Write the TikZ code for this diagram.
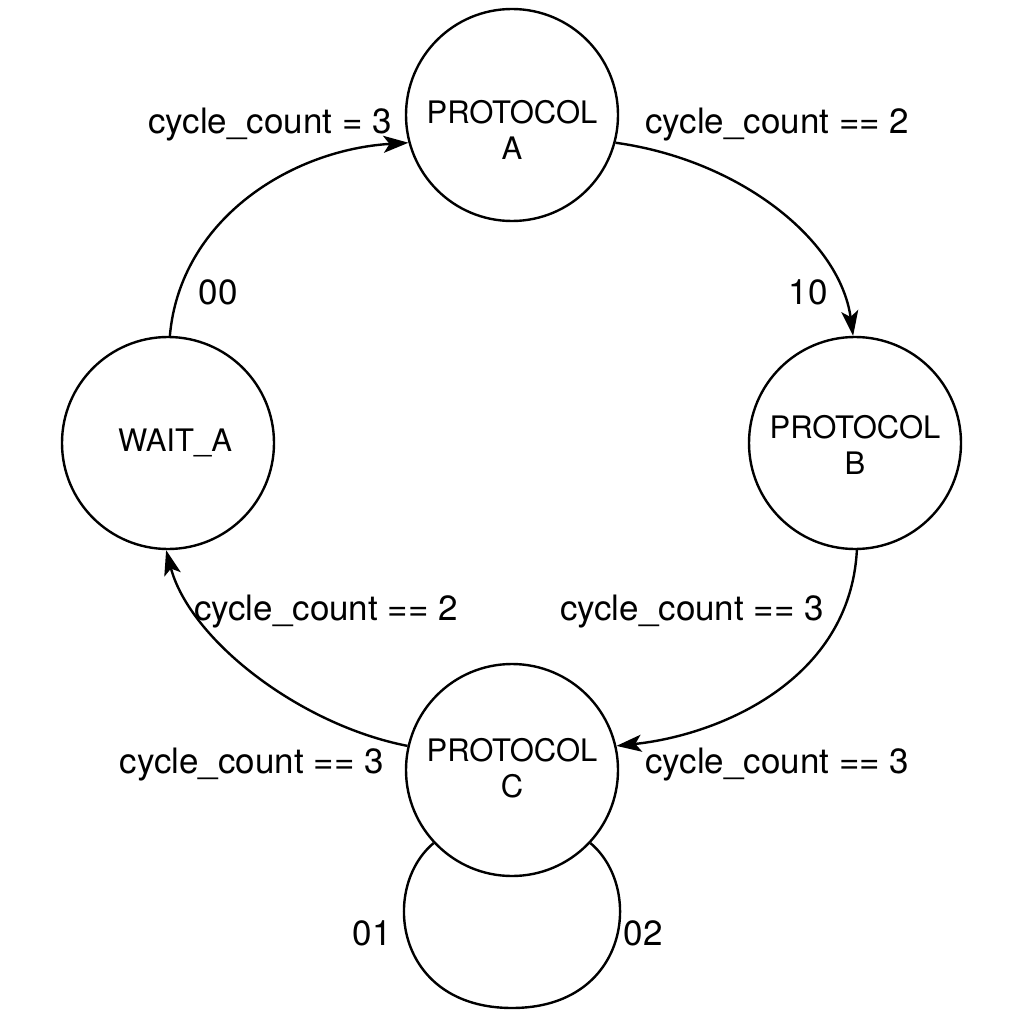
\documentclass[tikz,border=0pt]{standalone}
\usepackage{fontspec}
\setmainfont{TeX Gyre Heros}
\usetikzlibrary{arrows.meta}
\begin{document}
\begin{tikzpicture}[x=1pt,y=-1pt,
  state/.style={draw,circle,line width=2.4pt,minimum size=212pt,inner sep=0pt},
  stxt/.style={align=center,font=\fontsize{31}{36}\selectfont,inner sep=0pt},
  lbl/.style={font=\fontsize{35}{40}\selectfont,inner sep=0pt},
  edge/.style={line width=2.4pt,-{Stealth[length=25pt,width=17pt,inset=6pt]}},
  loopedge/.style={line width=2.4pt}]
\useasboundingbox (0,0) rectangle (1024,1024);
\node[state] (A) at (512,115) {};
\node[state] (B) at (855,443) {};
\node[state] (W) at (168,443) {};
\node[state] (C) at (512,770) {};
\node[stxt] (At) at (512,130) {PROTOCOL\\A};
\node[stxt] (Bt) at (855,445) {PROTOCOL\\B};
\node[stxt] (Wt) at (175,443) {WAIT\_A};
\node[stxt] (Ct) at (512,768) {PROTOCOL\\C};
\draw[edge] (W.89) .. controls (180,220) and (290,150) .. (A.195);
\draw[edge] (A.345) .. controls (740,160) and (840,240) .. (B.91);
\draw[edge] (B.271) .. controls (850,680) and (720,735) .. (C.13);
\draw[edge] (C.167) .. controls (300,725) and (190,640) .. (W.269);
\draw[loopedge] (C.223) .. controls (380,888) and (395,1008) .. (512,1008)
  coordinate (Cb) .. controls (629,1008) and (644,888) .. (C.317);
\node[lbl,anchor=east] (l1) at (392,125) {cycle\_count = 3};
\node[lbl] (l2) at (218,292) {00};
\node[lbl,anchor=west] (l3) at (645,125) {cycle\_count == 2};
\node[lbl] (l4) at (808,292) {10};
\node[lbl] (l5) at (692,612) {cycle\_count == 3};
\node[lbl,anchor=west] (l6) at (645,765) {cycle\_count == 3};
\node[lbl] (l7) at (326,612) {cycle\_count == 2};
\node[lbl,anchor=east] (l8) at (384,765) {cycle\_count == 3};
\node[lbl] (l9) at (372,933) {01};
\node[lbl] (l10) at (643,933) {02};
\end{tikzpicture}
\end{document}
